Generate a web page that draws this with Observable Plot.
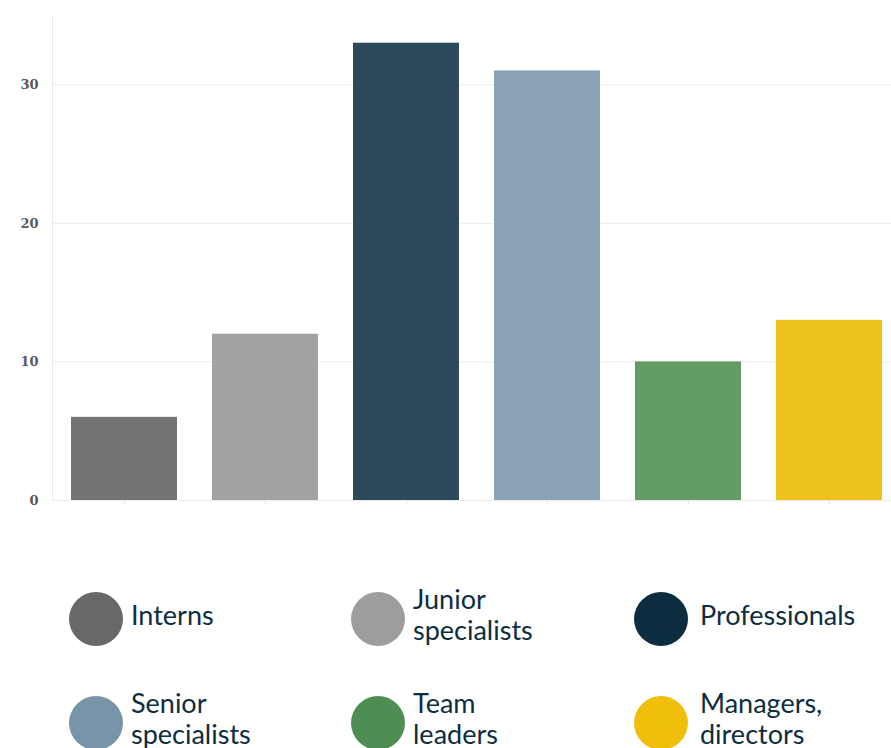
<!DOCTYPE html>
<html>
<head>
<meta charset="utf-8">
<script src="https://cdn.jsdelivr.net/npm/d3@7"></script>
<script src="https://cdn.jsdelivr.net/npm/@observablehq/plot@0.6"></script>
<style>
  body { margin: 0; background: #fff; overflow: hidden; }
  #chart svg { display: block; }
  .legend { position: relative; height: 218px; font-family: Lato, "Open Sans", sans-serif; font-size: 27px; color: #0d2d40; }
  .item { position: absolute; display: flex; align-items: center; height: 54px; }
  .dot { width: 54px; height: 54px; border-radius: 50%; flex: none; }
  .lab { margin-left: 8px; line-height: 31px; white-space: pre-line; position: relative; top: -5px; }
</style>
</head>
<body>
<div id="chart"></div>
<div class="legend" id="legend"></div>
<script>
const categories = ["Interns", "Junior specialists", "Professionals", "Senior specialists", "Team leaders", "Managers, directors"];
const legendLabels = ["Interns", "Junior\nspecialists", "Professionals", "Senior\nspecialists", "Team\nleaders", "Managers,\ndirectors"];
const values = [6, 12, 33, 31, 10, 13];
const legendColors = ["#686868", "#9e9d9b", "#0c2d40", "#7794a8", "#4f8e52", "#efbf0c"];
const barColors = ["#747474", "#a3a3a3", "#2c4a5c", "#89a2b5", "#629b64", "#ecc21c"];
const yTicks = [0, 10, 20, 30];

const data = categories.map((c, i) => ({category: c, value: values[i], color: barColors[i]}));

const chart = Plot.plot({
  width: 891,
  height: 530,
  marginLeft: 52,
  marginRight: 0,
  marginTop: 15,
  marginBottom: 30,
  x: {domain: categories, range: [52.4, 899.6], paddingInner: 0.25, paddingOuter: 0.125, axis: null},
  y: {domain: [0, 35], axis: null},
  marks: [
    Plot.gridY(yTicks, {stroke: "#ececec", strokeOpacity: 1}),
    Plot.frame({anchor: "left", stroke: "#ececec"}),
    Plot.ruleY([0], {stroke: "#ececec"}),
    Plot.barY(data, {x: "category", y: "value", fill: "color"}),
    Plot.axisX({tickSize: 4, stroke: "#e4e4e4", text: null, label: null}),
    Plot.axisY(yTicks, {tickSize: 0, tickPadding: 14, fontSize: 13, fontWeight: "bold", fill: "#5a5a5a", fontFamily: "DejaVu Serif, serif", label: null})
  ]
});
document.getElementById("chart").appendChild(chart);

const lefts = [69, 351, 634];
const tops = [62, 166];
const legend = document.getElementById("legend");
categories.forEach((c, i) => {
  const it = document.createElement("div");
  it.className = "item";
  it.style.left = lefts[i % 3] + "px";
  it.style.top = tops[Math.floor(i / 3)] + "px";
  const dot = document.createElement("div");
  dot.className = "dot";
  dot.style.background = legendColors[i];
  const lab = document.createElement("div");
  lab.className = "lab";
  lab.style.marginLeft = (i % 3 === 2 ? 12 : 8) + "px";
  lab.textContent = legendLabels[i];
  it.appendChild(dot);
  it.appendChild(lab);
  legend.appendChild(it);
});
</script>
</body>
</html>
